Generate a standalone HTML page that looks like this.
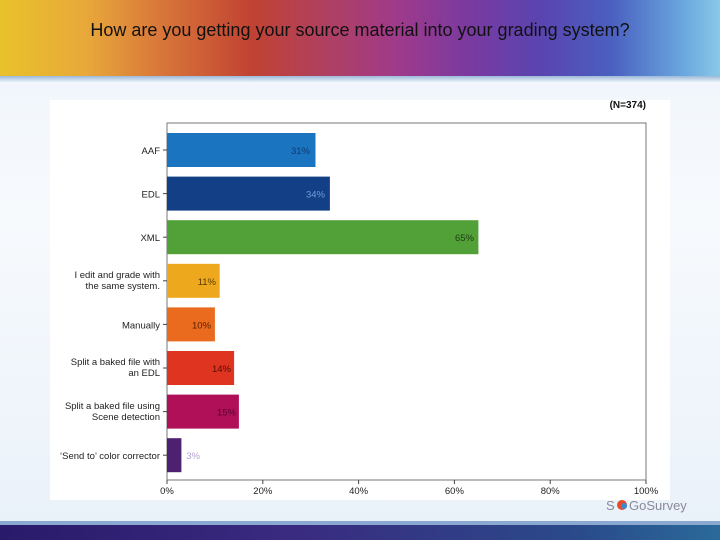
<!DOCTYPE html>
<html><head><meta charset="utf-8"><style>
body{margin:0;width:720px;height:540px;overflow:hidden;font-family:"Liberation Sans",sans-serif;position:relative;
background:linear-gradient(180deg,#eef4fb 0%,#f7fafd 40%,#e9f1f9 100%);}
.banner{position:absolute;left:0;top:0;width:720px;height:76px;
background:linear-gradient(90deg,#e8c22a 0%,#e8a83a 12%,#d9783a 22%,#c04232 35%,#b04060 45%,#a03a8a 55%,#7a3aa0 65%,#5a44b0 75%,#4a60c0 85%,#6aa8de 95%,#8ac8e8 100%);}
.banner:after{content:"";position:absolute;left:0;right:0;bottom:-6px;height:6px;background:linear-gradient(#9cb8d8,#e8f0f8);}
.title{position:absolute;top:20px;left:0;width:720px;text-align:center;font-size:18px;color:#111;}
.bottom{position:absolute;left:0;top:525px;width:720px;height:15px;background:linear-gradient(90deg,#2a1a6a,#3a2a80 40%,#2a4a8a 80%,#2a6a9a);}
.bottom:before{content:"";position:absolute;left:0;right:0;top:-4px;height:4px;background:#8aa8d0;}
.panel{position:absolute;left:50px;top:100px;width:620px;height:400px;background:#fff;}
.logo{position:absolute;left:606px;top:497px;font-size:14px;color:#8a8a9a;letter-spacing:1px;}
</style></head><body>
<div class="banner"></div>
<div class="title">How are you getting your source material into your grading system?</div>
<div class="panel"></div>
<div class="bottom"></div>
<svg width="720" height="540" style="position:absolute;left:0;top:0" font-family="Liberation Sans, sans-serif">
<text x="646" y="108" text-anchor="end" font-size="10" font-weight="bold" fill="#111">(N=374)</text>
<rect x="167" y="123" width="479" height="357" fill="none" stroke="#777" stroke-width="1"/>
<g font-size="9.5" fill="#222" text-anchor="end">
<rect x="167" y="133" width="148.5" height="34" fill="#1a74c0"/>
<text x="160" y="154">AAF</text><text x="310" y="154" fill="#123a70">31%</text>
<rect x="167" y="176.6" width="162.9" height="34" fill="#123f86"/>
<text x="160" y="197.6">EDL</text><text x="325" y="197.6" fill="#6f9fd8">34%</text>
<rect x="167" y="220.2" width="311.4" height="34" fill="#52a038"/>
<text x="160" y="241.2">XML</text><text x="474" y="241.2" fill="#1f3d12">65%</text>
<rect x="167" y="263.8" width="52.7" height="34" fill="#eea81e"/>
<text x="160" y="278">I edit and grade with</text><text x="160" y="289">the same system.</text><text x="216" y="284.8" fill="#5a3a00">11%</text>
<rect x="167" y="307.4" width="47.9" height="34" fill="#ea6a1e"/>
<text x="160" y="328.4">Manually</text><text x="211" y="328.4" fill="#5a2000">10%</text>
<rect x="167" y="351" width="67.1" height="34" fill="#de3420"/>
<text x="160" y="365">Split a baked file with</text><text x="160" y="376">an EDL</text><text x="231" y="372" fill="#5a0a00">14%</text>
<rect x="167" y="394.6" width="71.9" height="34" fill="#b01058"/>
<text x="160" y="409">Split a baked file using</text><text x="160" y="420">Scene detection</text><text x="236" y="415.6" fill="#5a0030">15%</text>
<rect x="167" y="438.2" width="14.4" height="34" fill="#4e2070"/>
<text x="160" y="459.2">‘Send to’ color corrector</text><text x="200" y="459.2" fill="#b8a0d0">3%</text>
</g>
<g stroke="#444" stroke-width="1">
<line x1="163" y1="150" x2="167" y2="150"/><line x1="163" y1="193.6" x2="167" y2="193.6"/>
<line x1="163" y1="237.2" x2="167" y2="237.2"/><line x1="163" y1="280.8" x2="167" y2="280.8"/>
<line x1="163" y1="324.4" x2="167" y2="324.4"/><line x1="163" y1="368" x2="167" y2="368"/>
<line x1="163" y1="411.6" x2="167" y2="411.6"/><line x1="163" y1="455.2" x2="167" y2="455.2"/>
<line x1="167" y1="480" x2="167" y2="484"/><line x1="262.8" y1="480" x2="262.8" y2="484"/>
<line x1="358.6" y1="480" x2="358.6" y2="484"/><line x1="454.4" y1="480" x2="454.4" y2="484"/>
<line x1="550.2" y1="480" x2="550.2" y2="484"/><line x1="646" y1="480" x2="646" y2="484"/>
</g>
<g font-size="9.5" fill="#222" text-anchor="middle">
<text x="167" y="494">0%</text><text x="262.8" y="494">20%</text><text x="358.6" y="494">40%</text>
<text x="454.4" y="494">60%</text><text x="550.2" y="494">80%</text><text x="646" y="494">100%</text>
</g>
<text x="606" y="510" font-size="13" fill="#8a8a9a">S</text>
<circle cx="622" cy="505" r="5" fill="#e84a2a"/><circle cx="624" cy="506" r="3" fill="#3a8ad0"/>
<text x="629" y="510" font-size="13" fill="#8a8a9a">GoSurvey</text>
</svg>
</body></html>
